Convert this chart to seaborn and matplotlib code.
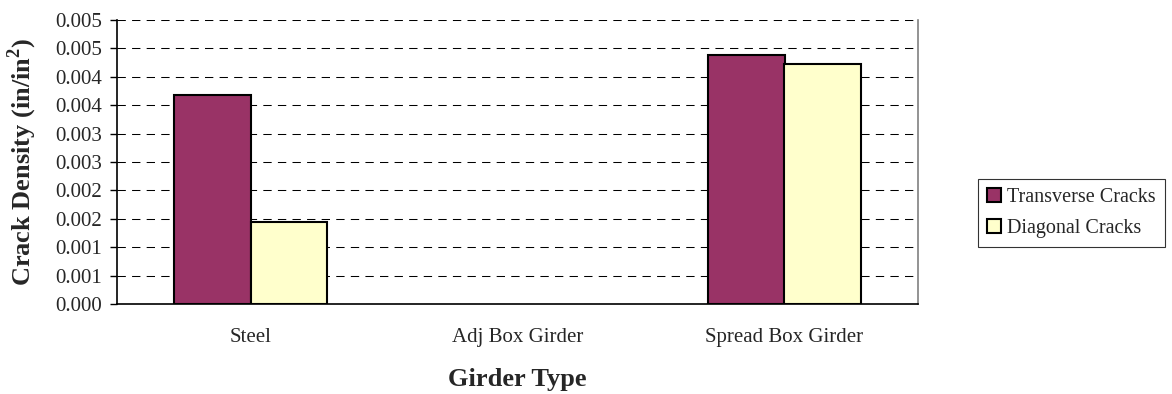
import seaborn as sns
import matplotlib.pyplot as plt
import pandas as pd
import numpy as np

girder_types = ["Steel", "Adj Box Girder", "Spread Box Girder"]
transverse = [0.00368, np.nan, 0.00438]
diagonal = [0.00145, np.nan, 0.00422]
series_names = ["Transverse Cracks", "Diagonal Cracks"]
series_colors = ["#993366", "#FFFFCC"]
ytick_vals = [0.0, 0.0005, 0.001, 0.0015, 0.002, 0.0025, 0.003, 0.0035, 0.004, 0.0045, 0.005]
ytick_labels = ["0.000", "0.001", "0.001", "0.002", "0.002", "0.003", "0.003",
                "0.004", "0.004", "0.005", "0.005"]

df = pd.DataFrame({
    "Girder": girder_types * 2,
    "Series": [series_names[0]] * 3 + [series_names[1]] * 3,
    "Density": transverse + diagonal,
})

sns.set_style("white")
plt.rcParams["font.family"] = ["Liberation Serif", "DejaVu Serif"]

fig = plt.figure(figsize=(11.72, 3.94), dpi=100)
ax = fig.add_axes([117 / 1172, 90 / 394, (918 - 117) / 1172, 284 / 394])

sns.barplot(data=df, x="Girder", y="Density", hue="Series", order=girder_types,
            hue_order=series_names, palette=series_colors, width=0.575, saturation=1,
            edgecolor="black", linewidth=1.5, ax=ax, legend=False, zorder=3)

ax.set_xlim(-0.5, 2.5)
ax.set_ylim(0, 0.005)
ax.set_yticks(ytick_vals)
ax.set_yticklabels(ytick_labels, fontsize=15)
ax.yaxis.grid(True, color="black", linestyle=(0, (8, 6)), linewidth=0.75, zorder=0)
ax.set_axisbelow(True)

ax.set_xticks(range(3))
ax.set_xticklabels(girder_types, fontsize=15)
ax.set_xticks([0.5, 1.5, 2.5], minor=True)
ax.tick_params(axis="x", which="major", length=0, pad=17)
ax.tick_params(axis="x", which="minor", length=5, width=1, color="black", direction="out")
ax.tick_params(axis="y", length=5, width=1, color="black", direction="out", left=True, pad=6)

for side in ["left", "bottom"]:
    ax.spines[side].set_color("black")
    ax.spines[side].set_linewidth(1.2)
ax.spines["right"].set_color("gray")
ax.spines["right"].set_linewidth(1.2)
ax.spines["top"].set_visible(False)

ax.set_xlabel("Girder Type", fontsize=19, fontweight="bold")
ax.xaxis.set_label_coords(0.5, -0.225)
ax.set_ylabel("Crack Density (in/in$^\\mathregular{2}$)", fontsize=19, fontweight="bold")
ax.yaxis.set_label_coords(-0.098, 0.5)

handles = [plt.Rectangle((0, 0), 1, 1, facecolor=c, edgecolor="black", linewidth=1.5)
           for c in series_colors]
leg = fig.legend(handles, series_names, loc="lower left", bbox_to_anchor=(978 / 1172, 147 / 394),
                 frameon=True, fancybox=False, fontsize=14.5, handlelength=0.7, handleheight=0.7,
                 handletextpad=0.3, borderpad=0.45, labelspacing=0.6, borderaxespad=0)
leg.get_frame().set_edgecolor("black")
leg.get_frame().set_linewidth(0.8)

fig.savefig("out.png", dpi=100)
